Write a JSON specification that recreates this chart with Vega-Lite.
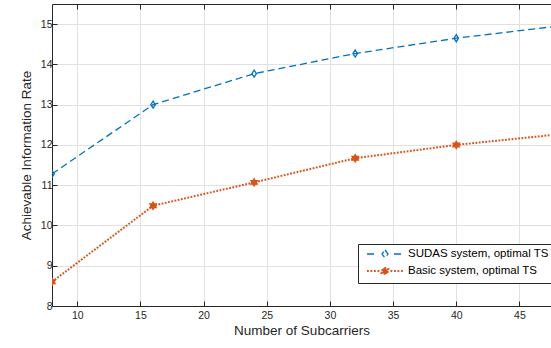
{
  "$schema": "https://vega.github.io/schema/vega-lite/v6.json",
  "width": 499,
  "height": 302,
  "autosize": {"type": "none"},
  "padding": {"left": 52, "top": 4, "right": 0, "bottom": 42},
  "background": "white",
  "config": {
    "view": {"stroke": null},
    "font": "Liberation Sans",
    "axis": {
      "grid": true,
      "gridColor": "#e1e1e1",
      "gridWidth": 1,
      "domainColor": "#262626",
      "domainWidth": 1,
      "tickColor": "#262626",
      "tickSize": -5,
      "labelColor": "#262626",
      "labelFontSize": 10.5,
      "titleFontSize": 13.5,
      "titleFontWeight": "normal",
      "titleColor": "#262626"
    }
  },
  "data": {
    "values": [
      {"n": 8, "rate": 11.28, "series": "SUDAS system, optimal TS"},
      {"n": 16, "rate": 13.0, "series": "SUDAS system, optimal TS"},
      {"n": 24, "rate": 13.77, "series": "SUDAS system, optimal TS"},
      {"n": 32, "rate": 14.27, "series": "SUDAS system, optimal TS"},
      {"n": 40, "rate": 14.65, "series": "SUDAS system, optimal TS"},
      {"n": 48, "rate": 14.95, "series": "SUDAS system, optimal TS"},
      {"n": 8, "rate": 8.6, "series": "Basic system, optimal TS"},
      {"n": 16, "rate": 10.49, "series": "Basic system, optimal TS"},
      {"n": 24, "rate": 11.07, "series": "Basic system, optimal TS"},
      {"n": 32, "rate": 11.67, "series": "Basic system, optimal TS"},
      {"n": 40, "rate": 12.0, "series": "Basic system, optimal TS"},
      {"n": 48, "rate": 12.26, "series": "Basic system, optimal TS"}
    ]
  },
  "resolve": {"axis": {"x": "independent"}},
  "layer": [
    {
      "mark": {"type": "line", "clip": true},
      "encoding": {
        "x": {
          "field": "n", "type": "quantitative",
          "scale": {"domain": [8, 47.5], "nice": false, "zero": false},
          "axis": {"values": [10, 15, 20, 25, 30, 35, 40, 45], "title": "Number of Subcarriers", "labelPadding": 9, "titlePadding": 3}
        },
        "y": {
          "field": "rate", "type": "quantitative",
          "scale": {"domain": [8, 15.5], "nice": false, "zero": false},
          "axis": {"values": [8, 9, 10, 11, 12, 13, 14, 15], "title": "Achievable Information Rate", "labelPadding": 5, "titlePadding": 7}
        },
        "color": {
          "field": "series", "type": "nominal",
          "scale": {"domain": ["SUDAS system, optimal TS", "Basic system, optimal TS"], "range": ["#0072BD", "#D95319"]},
          "legend": {
            "orient": "none", "legendX": 306, "legendY": 240,
            "title": null,
            "strokeColor": "#262626", "fillColor": "white", "padding": 4,
            "labelFontSize": 11.5, "labelColor": "#000000",
            "rowPadding": 2, "symbolSize": 100, "symbolOffset": 17, "labelOffset": 17,
            "symbolType": "M-3.6,0L3.6,0",
            "encode": {
              "symbols": {
                "update": {
                  "shape": {"signal": "datum.value == 'SUDAS system, optimal TS' ? 'M-3.6,0L-1.8,0M1.8,0L3.6,0M0,-0.8L0.6,0L0,0.8L-0.6,0Z' : 'M-3.6,0L-3.2,0M-2.9,0L-2.5,0M-2.2,0L-1.8,0M-1.5,0L-1.1,0M1.1,0L1.5,0M1.8,0L2.2,0M2.5,0L2.9,0M3.2,0L3.6,0M0,-0.75L0.217,-0.375L0.65,-0.375L0.433,0L0.65,0.375L0.217,0.375L0,0.75L-0.217,0.375L-0.65,0.375L-0.433,0L-0.65,-0.375L-0.217,-0.375Z'"},
                  "fill": {"signal": "datum.value == 'SUDAS system, optimal TS' ? 'transparent' : '#D95319'"},
                  "stroke": {"signal": "datum.value == 'SUDAS system, optimal TS' ? '#0072BD' : '#D95319'"},
                  "strokeWidth": {"signal": "datum.value == 'SUDAS system, optimal TS' ? 1.3 : 2"},
                  "strokeDash": {"value": []},
                  "size": {"value": 100},
                  "opacity": {"value": 1}
                }
              }
            }
          }
        },
        "strokeDash": {
          "field": "series", "type": "nominal",
          "scale": {"domain": ["SUDAS system, optimal TS", "Basic system, optimal TS"], "range": [[7, 4], [1.8, 1.5]]},
          "legend": null
        },
        "strokeWidth": {
          "field": "series", "type": "nominal",
          "scale": {"domain": ["SUDAS system, optimal TS", "Basic system, optimal TS"], "range": [1.3, 2]},
          "legend": null
        }
      }
    },
    {
      "transform": [{"filter": "datum.series == 'SUDAS system, optimal TS'"}],
      "mark": {"type": "point", "clip": true, "strokeWidth": 1.3, "opacity": 1, "filled": false, "color": "#0072BD", "size": 49, "shape": "M0,-1L0.65,0L0,1L-0.65,0Z"},
      "encoding": {
        "x": {"field": "n", "type": "quantitative", "axis": {"orient": "top", "values": [10, 15, 20, 25, 30, 35, 40, 45], "labels": false, "title": null, "grid": false}},
        "y": {"field": "rate", "type": "quantitative"}
      }
    },
    {
      "transform": [{"filter": "datum.series == 'Basic system, optimal TS'"}],
      "mark": {"type": "point", "clip": true, "strokeWidth": 1.2, "opacity": 1, "filled": true, "color": "#D95319", "stroke": "#D95319", "size": 56, "shape": "M0,-1L0.289,-0.5L0.866,-0.5L0.577,0L0.866,0.5L0.289,0.5L0,1L-0.289,0.5L-0.866,0.5L-0.577,0L-0.866,-0.5L-0.289,-0.5Z"},
      "encoding": {
        "x": {"field": "n", "type": "quantitative", "axis": null},
        "y": {"field": "rate", "type": "quantitative"}
      }
    }
  ]
}
